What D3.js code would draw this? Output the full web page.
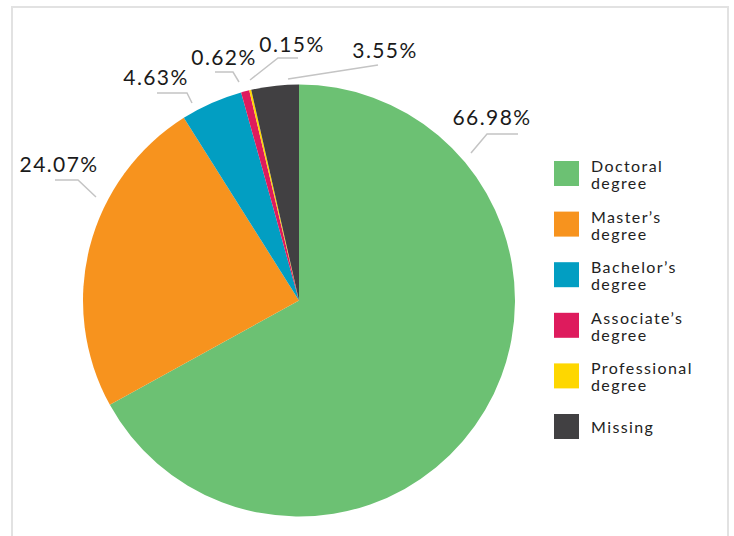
<!DOCTYPE html>
<html>
<head>
<meta charset="utf-8">
<script src="https://cdn.jsdelivr.net/npm/d3@7"></script>
<style>
  body { margin: 0; background: #fff; }
  text { font-family: Lato, "Open Sans", sans-serif; }
</style>
</head>
<body>
<script>
const width = 734;
const height = 536;

// data
const categories = ['Doctoral degree', "Master\u2019s degree", "Bachelor\u2019s degree", "Associate\u2019s degree", 'Professional degree', 'Missing'];
const values = [66.98, 24.07, 4.63, 0.62, 0.15, 3.55];
const colors = ['#6cc173', '#f7931e', '#029ec2', '#de1b5d', '#fed700', '#414042'];

// label leader lines, offsets from pie centre
const leaders = [
    [[172, -147.5], [188, -166.5], [219, -166.5]],
    [[-203, -103.5], [-221, -120.5], [-244, -120.5]],
    [[-107, -197.5], [-112, -207.5], [-142, -207.5]],
    [[-60, -218.5], [-66, -228.5], [-84, -228.5]],
    [[-49, -220.5], [-21, -242.5], [-1, -242.5]],
    [[-11, -221.5], [79, -235.5]]
];
const labelPos = [[193, -175.5], [-240, -128.5], [-143, -215.5], [-75, -235.5], [-7, -248.5], [86, -242.5]];

const cx = 299, cy = 300.5, radius = 216;

const svg = d3.select('body')
    .append('svg')
    .attr('width', width)
    .attr('height', height);

// frame
svg.append('rect')
    .attr('x', 12)
    .attr('y', 7)
    .attr('width', 716)
    .attr('height', 560)
    .attr('fill', 'none')
    .attr('stroke', '#e2e2e2')
    .attr('stroke-width', 2);

const pie = d3.pie().sort(null).value(d => d);
const arc = d3.arc().innerRadius(0).outerRadius(radius);

const g = svg.append('g').attr('transform', `translate(${cx},${cy})`);

g.selectAll('path.slice')
    .data(pie(values))
    .enter()
    .append('path')
    .attr('class', 'slice')
    .attr('d', arc)
    .attr('fill', (d, i) => colors[i]);

// leader lines
g.selectAll('path.leader')
    .data(leaders)
    .enter()
    .append('path')
    .attr('class', 'leader')
    .attr('d', d => d3.line()(d))
    .attr('fill', 'none')
    .attr('stroke', '#c4c4c4')
    .attr('stroke-width', 1.5);

g.selectAll('text.label')
    .data(values)
    .enter()
    .append('text')
    .attr('class', 'label')
    .attr('x', (d, i) => labelPos[i][0])
    .attr('y', (d, i) => labelPos[i][1])
    .attr('text-anchor', 'middle')
    .attr('font-size', 21)
    .attr('letter-spacing', 1.4)
    .attr('fill', '#1a1a1a')
    .text(d => d.toFixed(2) + '%');

// legend
const legend = svg.append('g').attr('transform', 'translate(554,161)');

const item = legend.selectAll('g')
    .data(categories)
    .enter()
    .append('g')
    .attr('transform', (d, i) => `translate(0,${i * 50.6})`);

item.append('rect')
    .attr('width', 25)
    .attr('height', 25)
    .attr('fill', (d, i) => colors[i]);

item.each(function (d) {
    const words = d.split(' ');
    const lines = words.length > 1 ? [words.slice(0, -1).join(' '), words[words.length - 1]] : [d];
    const t = d3.select(this).append('text')
        .attr('x', 37)
        .attr('font-size', 16)
        .attr('letter-spacing', 1.4)
        .attr('fill', '#222');
    lines.forEach((l, j) => {
        t.append('tspan')
            .attr('x', 37)
            .attr('y', lines.length > 1 ? 11 + j * 17 : 18.5)
            .text(l);
    });
});
</script>
</body>
</html>
